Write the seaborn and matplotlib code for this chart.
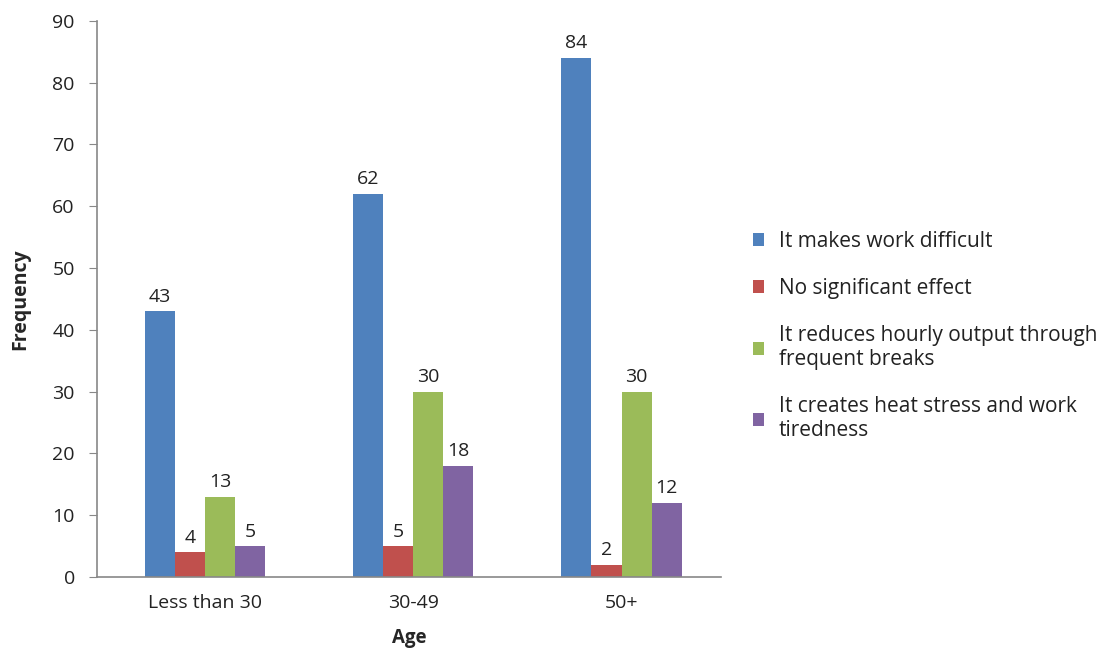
import matplotlib
matplotlib.use("Agg")
import matplotlib.pyplot as plt
import seaborn as sns
import pandas as pd

ages = ["Less than 30", "30-49", "50+"]
series = ["It makes work difficult", "No significant effect",
          "It reduces hourly output through\nfrequent breaks",
          "It creates heat stress and work\ntiredness"]
makes_difficult = [43, 62, 84]
no_effect = [4, 5, 2]
reduces_output = [13, 30, 30]
heat_stress = [5, 18, 12]
colors = ["#4F81BD", "#C0504D", "#9BBB59", "#8064A2"]

rows = []
for s, vals in zip(series, [makes_difficult, no_effect, reduces_output, heat_stress]):
    for a, v in zip(ages, vals):
        rows.append({"Age": a, "Series": s, "Frequency": v})
df = pd.DataFrame(rows)

sns.set_style("white")
plt.rcParams['font.family'] = ['Open Sans', 'DejaVu Sans']

fig = plt.figure(figsize=(11.15, 6.53), dpi=100)
ax = fig.add_axes([0.087, 0.1164, 0.56, 0.8516])
sns.barplot(data=df, x="Age", y="Frequency", hue="Series", palette=colors,
            width=0.577, gap=0, saturation=1, ax=ax, edgecolor="none")

for c in ax.containers:
    ax.bar_label(c, fmt="%d", padding=4, fontsize=14, color="#222222")

ax.set_ylim(0, 90)
ax.set_xlim(-0.52, 2.48)
ax.set_yticks(range(0, 91, 10))
ax.tick_params(axis="y", length=6, direction="out", color="#888888", labelsize=14,
               labelcolor="#222222", left=True, pad=10)
ax.tick_params(axis="x", length=0, labelsize=14, labelcolor="#222222", pad=12)
ax.set_xlabel("Age", fontsize=13.5, fontweight="bold", labelpad=12)
ax.set_ylabel("Frequency", fontsize=14, fontweight="bold", labelpad=16)
for sp in ["top", "right"]:
    ax.spines[sp].set_visible(False)
for sp in ["left", "bottom"]:
    ax.spines[sp].set_color("#888888")
    ax.spines[sp].set_linewidth(1.2)

leg = ax.legend(loc="center left", bbox_to_anchor=(1.05, 0.433), frameon=False,
                fontsize=15, handlelength=0.55, handleheight=0.55, handletextpad=0.7,
                labelspacing=1.25, borderpad=0, borderaxespad=0)
for t in leg.get_texts():
    t.set_color("#222222")
    t.set_linespacing(1.2)

fig.savefig("out.png", dpi=100)
